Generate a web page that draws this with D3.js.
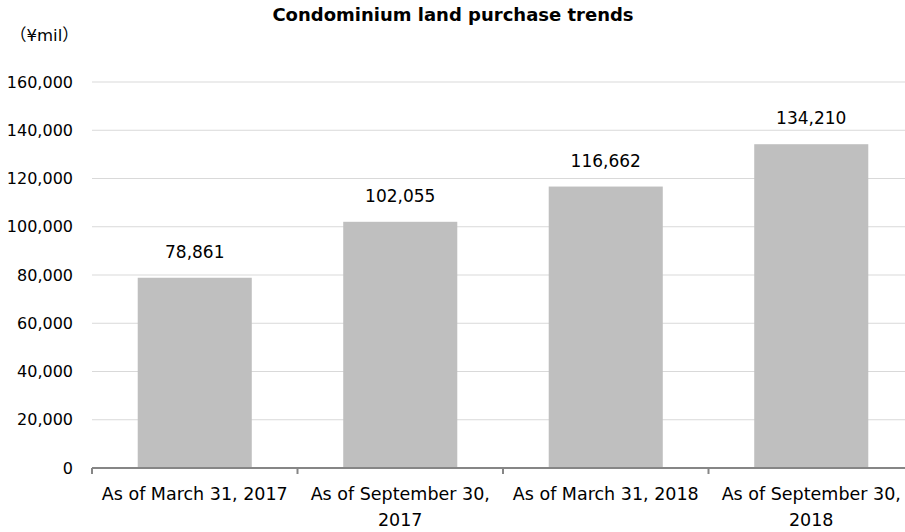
<!DOCTYPE html>
<html>
<head>
<meta charset="utf-8">
<script src="https://cdn.jsdelivr.net/npm/d3@7"></script>
<style>
  body { margin: 0; background: #fff; }
  text { font-family: "DejaVu Sans", "Noto Sans CJK JP", sans-serif; fill: #000; }
</style>
</head>
<body>
<svg id="chart"></svg>
<script>
const categories = ['As of March 31, 2017', 'As of September 30, 2017', 'As of March 31, 2018', 'As of September 30, 2018'];
const values = [78861, 102055, 116662, 134210];
const yTicks = [0, 20000, 40000, 60000, 80000, 100000, 120000, 140000, 160000];

const width = 905, height = 532;
const margin = {top: 82, right: -9, bottom: 64, left: 92};

const svg = d3.select('#chart')
    .attr('width', width)
    .attr('height', height);

const innerW = width - margin.left - margin.right;
const innerH = height - margin.top - margin.bottom;

const g = svg.append('g')
    .attr('transform', `translate(${margin.left},${margin.top})`);

const x = d3.scaleBand()
    .domain(categories)
    .range([0, innerW])
    .paddingInner(0.445)
    .paddingOuter(0.2225);

const xBand = d3.scaleBand().domain(categories).range([0, innerW]);

const y = d3.scaleLinear()
    .domain([0, 160000])
    .range([innerH, 0]);

// gridlines
g.append('g')
  .selectAll('line')
  .data(yTicks.filter(d => d > 0))
  .join('line')
    .attr('x1', 0)
    .attr('x2', innerW)
    .attr('y1', d => y(d))
    .attr('y2', d => y(d))
    .attr('stroke', '#d9d9d9')
    .attr('stroke-width', 1);

// y labels
g.append('g')
  .selectAll('text')
  .data(yTicks)
  .join('text')
    .attr('x', -19)
    .attr('y', d => y(d))
    .attr('dy', '0.35em')
    .attr('text-anchor', 'end')
    .attr('font-size', '16px')
    .text(d => d3.format(',')(d));

// bars
g.selectAll('.bar')
  .data(values)
  .join('rect')
    .attr('class', 'bar')
    .attr('x', (d, i) => x(categories[i]))
    .attr('width', x.bandwidth())
    .attr('y', d => y(d))
    .attr('height', d => innerH - y(d))
    .attr('fill', '#bfbfbf');

// value labels
g.selectAll('.val')
  .data(values)
  .join('text')
    .attr('class', 'val')
    .attr('x', (d, i) => x(categories[i]) + x.bandwidth() / 2)
    .attr('y', d => y(d) - 20)
    .attr('text-anchor', 'middle')
    .attr('font-size', '17px')
    .text(d => d3.format(',')(d));

// x axis
const xAxis = g.append('g')
    .attr('transform', `translate(0,${innerH})`);

xAxis.append('line')
    .attr('x1', 0).attr('x2', innerW)
    .attr('stroke', '#868686')
    .attr('stroke-width', 2);

xAxis.selectAll('.tick')
  .data(categories)
  .join('line')
    .attr('class', 'tick')
    .attr('x1', d => xBand(d))
    .attr('x2', d => xBand(d))
    .attr('y1', 0)
    .attr('y2', 6)
    .attr('stroke', '#868686')
    .attr('stroke-width', 2);

// category labels, wrapped to two lines when too long
xAxis.selectAll('.cat')
  .data(categories)
  .join('text')
    .attr('class', 'cat')
    .attr('text-anchor', 'middle')
    .attr('font-size', '17.5px')
    .each(function(d) {
      const t = d3.select(this);
      const cx = xBand(d) + xBand.bandwidth() / 2;
      let lines = [d];
      if (d.length > 21) {
        const cut = d.lastIndexOf(' ');
        lines = [d.slice(0, cut), d.slice(cut + 1)];
      }
      lines.forEach((l, i) => {
        t.append('tspan')
          .attr('x', cx)
          .attr('y', 32 + i * 26)
          .text(l);
      });
    });

// title and unit
svg.append('text')
    .attr('x', 453)
    .attr('y', 21)
    .attr('text-anchor', 'middle')
    .attr('font-size', '18px')
    .attr('font-weight', 'bold')
    .text('Condominium land purchase trends');

svg.append('text')
    .attr('x', 10)
    .attr('y', 41)
    .attr('font-size', '16.5px')
    .text('（¥mil）');
</script>
</body>
</html>
